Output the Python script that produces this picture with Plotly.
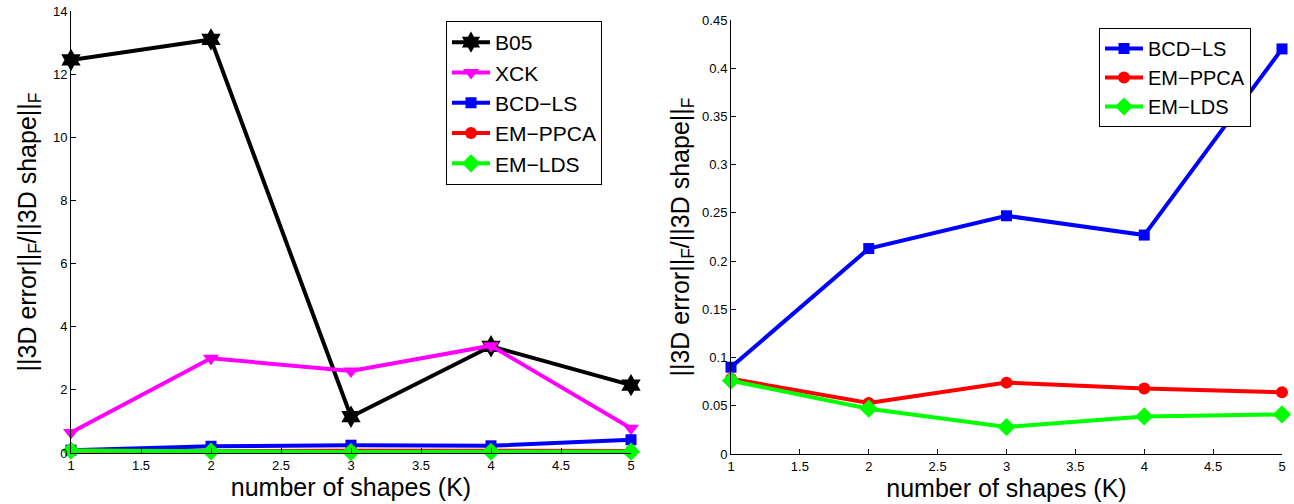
import plotly.graph_objects as go

K = [1, 2, 3, 4, 5]
x_ticks = [1, 1.5, 2, 2.5, 3, 3.5, 4, 4.5, 5]
x_tick_labels = ["1", "1.5", "2", "2.5", "3", "3.5", "4", "4.5", "5"]
left_y_ticks = [0, 2, 4, 6, 8, 10, 12, 14]
right_y_ticks = [0, 0.05, 0.1, 0.15, 0.2, 0.25, 0.3, 0.35, 0.4, 0.45]
right_y_labels = ["0", "0.05", "0.1", "0.15", "0.2", "0.25", "0.3", "0.35", "0.4", "0.45"]

b05 = [12.45, 13.1, 1.15, 3.38, 2.15]
xck = [0.65, 3.0, 2.6, 3.4, 0.78]
bcd_ls = [0.09, 0.213, 0.247, 0.227, 0.42]
em_ppca = [0.078, 0.053, 0.074, 0.068, 0.064]
em_lds = [0.076, 0.047, 0.028, 0.039, 0.041]

FONT = "Liberation Sans"

series_left = [
    ("B05", b05, "#000000", "hexagram", 17),
    ("XCK", xck, "#ff00ff", "triangle-down", 14),
    ("BCD\u2212LS", bcd_ls, "#0000ff", "square", 11),
    ("EM\u2212PPCA", em_ppca, "#ff0000", "circle", 12),
    ("EM\u2212LDS", em_lds, "#00ff00", "diamond", 14),
]

fig = go.Figure()
for name, vals, col, sym, sz in series_left:
    fig.add_trace(go.Scatter(
        x=K, y=vals, name=name, mode="lines+markers",
        line=dict(color=col, width=4),
        marker=dict(symbol=sym, size=sz, color=col, line=dict(width=0)),
        cliponaxis=False, xaxis="x", yaxis="y", legend="legend",
    ))
for name, vals, col, sym, sz in series_left[2:]:
    fig.add_trace(go.Scatter(
        x=K, y=vals, name=name, mode="lines+markers",
        line=dict(color=col, width=4),
        marker=dict(symbol=sym, size=sz, color=col, line=dict(width=0)),
        cliponaxis=False, xaxis="x2", yaxis="y2", legend="legend2",
    ))

W, H = 1294, 504
def xd(a, b):
    return [a / W, b / W]
def yd(top, bottom):
    return [(H - bottom) / H, (H - top) / H]

axis_common = dict(
    showline=True, linecolor="black", linewidth=1, mirror=False,
    ticks="inside", ticklen=5, tickcolor="black", tickwidth=1,
    showgrid=False, zeroline=False, automargin=False,
    tickfont=dict(family=FONT, size=13, color="black"),
)
ytitle = "||3D error||<sub>F</sub>/||3D shape||<sub>F</sub>"
xtitle = "number of shapes (K)"

fig.update_layout(
    width=W, height=H,
    margin=dict(l=0, r=0, t=0, b=0, autoexpand=False),
    paper_bgcolor="white", plot_bgcolor="white",
    font=dict(family=FONT, color="black"),
    xaxis=dict(domain=xd(71, 631), range=[1, 5], tickvals=x_ticks, ticktext=x_tick_labels,
               anchor="y", title=dict(text=xtitle, font=dict(size=25, family=FONT), standoff=4),
               **axis_common),
    yaxis=dict(domain=yd(11, 453), range=[0, 14], tickvals=left_y_ticks,
               anchor="x", title=dict(text=ytitle, font=dict(size=25, family=FONT), standoff=9),
               **axis_common),
    xaxis2=dict(domain=xd(731, 1282), range=[1, 5], tickvals=x_ticks, ticktext=x_tick_labels,
                anchor="y2", title=dict(text=xtitle, font=dict(size=25, family=FONT), standoff=4),
                **axis_common),
    yaxis2=dict(domain=yd(20, 454), range=[0, 0.45], tickvals=right_y_ticks, ticktext=right_y_labels,
                anchor="x2", title=dict(text=ytitle, font=dict(size=25, family=FONT), standoff=5),
                **axis_common),
    legend=dict(x=446 / W, y=(H - 21) / H, xanchor="left", yanchor="top",
                bordercolor="black", borderwidth=1, bgcolor="white", itemwidth=38,
                font=dict(family=FONT, size=21, color="black"), tracegroupgap=0),
    legend2=dict(x=1099 / W, y=(H - 28) / H, xanchor="left", yanchor="top",
                 bordercolor="black", borderwidth=1, bgcolor="white", itemwidth=38,
                 font=dict(family=FONT, size=20, color="black"), tracegroupgap=0),
    showlegend=True,
)

fig.write_html("out.html", config={"displayModeBar": False},
               post_script="document.body.style.margin='0';")
